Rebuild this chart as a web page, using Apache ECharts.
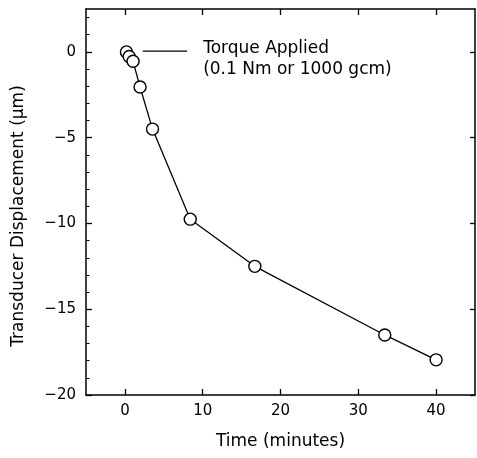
<!DOCTYPE html>
<html>
<head>
<meta charset="utf-8">
<script src="https://cdn.jsdelivr.net/npm/echarts@6/dist/echarts.min.js"></script>
<style>
  html, body { margin: 0; padding: 0; background: #fff; }
  #chart { width: 477px; height: 458px; }
</style>
</head>
<body>
<div id="chart"></div>
<script>
// Data
const timeMinutes = [0.2, 0.55, 1.05, 1.95, 3.55, 8.4, 16.7, 33.4, 40.0];
const displacement = [0.0, -0.27, -0.55, -2.05, -4.5, -9.75, -12.5, -16.5, -17.95];
const xTicks = [0, 10, 20, 30, 40];
const yTicks = [-20, -15, -10, -5, 0];
const yMinorTicks = [-20,-19,-18,-17,-16,-15,-14,-13,-12,-11,-10,-9,-8,-7,-6,-5,-4,-3,-2,-1,0,1,2];
const annotationLine = [[2.3, 0.05], [8.0, 0.05]];
const annotationText = ['Torque Applied', '(0.1 Nm or 1000 gcm)'];

const FONT = 'DejaVu Sans';
const chart = echarts.init(document.getElementById('chart'), null, { renderer: 'canvas' });

const lineStyle = { color: '#000', width: 1.5 };

const option = {
  animation: false,
  backgroundColor: '#fff',
  grid: { left: 86, right: 2, top: 9, bottom: 63, containLabel: false },
  xAxis: [
    {
      type: 'value', position: 'bottom', min: -5, max: 45,
      axisLine: { show: true, onZero: false, lineStyle },
      axisTick: { show: true, inside: true, length: 6, customValues: xTicks, lineStyle: { color: '#000', width: 1.3 } },
      axisLabel: { customValues: xTicks, color: '#000', fontFamily: FONT, fontSize: 15, margin: 9 },
      splitLine: { show: false },
      name: 'Time (minutes)', nameLocation: 'middle', nameGap: 38,
      nameTextStyle: { color: '#000', fontFamily: FONT, fontSize: 17 }
    },
    {
      type: 'value', position: 'top', min: -5, max: 45,
      axisLine: { show: true, onZero: false, lineStyle },
      axisTick: { show: true, inside: true, length: 6, customValues: xTicks, lineStyle: { color: '#000', width: 1.3 } },
      axisLabel: { show: false },
      splitLine: { show: false }
    }
  ],
  yAxis: [
    {
      type: 'value', position: 'left', min: -20, max: 2.5,
      axisLine: { show: true, onZero: false, lineStyle },
      axisTick: { show: true, inside: true, length: 6, customValues: yTicks, lineStyle: { color: '#000', width: 1.3 } },
      axisLabel: { customValues: yTicks, color: '#000', fontFamily: FONT, fontSize: 15, margin: 10,
        formatter: v => (v < 0 ? '\u2212' + Math.abs(v) : String(v)) },
      splitLine: { show: false },
      name: 'Transducer Displacement (μm)', nameLocation: 'middle', nameGap: 59,
      nameTextStyle: { color: '#000', fontFamily: FONT, fontSize: 17, padding: [0, 28, 0, 0] }
    },
    {
      type: 'value', position: 'left', offset: 0, min: -20, max: 2.5,
      axisLine: { show: false, onZero: false },
      axisTick: { show: true, inside: true, length: 3.5, customValues: yMinorTicks, lineStyle: { color: '#000', width: 1 } },
      axisLabel: { show: false },
      splitLine: { show: false }
    },
    {
      type: 'value', position: 'right', min: -20, max: 2.5,
      axisLine: { show: true, onZero: false, lineStyle },
      axisTick: { show: true, inside: true, length: 5, customValues: yTicks, lineStyle: { color: '#000', width: 1.3 } },
      axisLabel: { show: false },
      splitLine: { show: false }
    }
  ],
  series: [
    {
      type: 'line',
      xAxisIndex: 0, yAxisIndex: 0,
      data: timeMinutes.map((t, i) => [t, displacement[i]]),
      symbol: 'circle', symbolSize: 12,
      lineStyle: { color: '#000', width: 1.3 },
      itemStyle: { color: '#fff', borderColor: '#000', borderWidth: 1.4 },
      z: 3
    },
    {
      type: 'line',
      xAxisIndex: 0, yAxisIndex: 0,
      data: annotationLine,
      symbol: 'none',
      lineStyle: { color: '#000', width: 1.2 },
      z: 2
    }
  ]
};
chart.setOption(option);

const endPx = chart.convertToPixel({ xAxisIndex: 0, yAxisIndex: 0 }, annotationLine[1]);
chart.setOption({
  graphic: [
    {
      type: 'text', left: endPx[0] + 16, top: endPx[1] - 13,
      style: { text: annotationText.join('\n'), fill: '#000', font: '17px "' + FONT + '"', lineHeight: 21 }
    }
  ]
});
</script>
</body>
</html>
